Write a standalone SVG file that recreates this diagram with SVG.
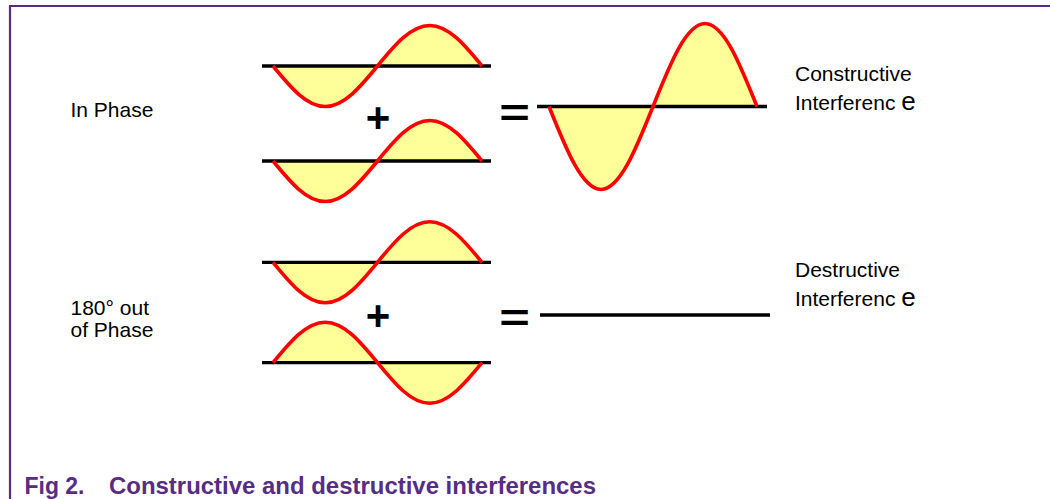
<svg xmlns="http://www.w3.org/2000/svg" xmlns:xlink="http://www.w3.org/1999/xlink" width="1050" height="499" viewBox="0 0 1050 499">
<style>
.lbl{font-family:"Liberation Sans",Arial,sans-serif;font-size:21px;fill:#000}
.op{font-family:"Liberation Sans",Arial,sans-serif;font-size:42px;font-weight:bold;fill:#000;text-anchor:middle}
.cap{font-family:"Liberation Sans",Arial,sans-serif;font-size:23px;font-weight:bold;fill:#582c83}
.axis{stroke:#000;stroke-width:3.3;fill:none}
.fill{fill:#ffff99;stroke:none}
.curve{fill:none;stroke:#ff0000;stroke-width:3.6;stroke-linejoin:round}
</style>
<defs>
<path id="wf" d="M0,0 c17.04,20.75 33.34,40.5 52.25,40.5 c18.91,0 35.21,-19.75 52.25,-40.5 c17.04,-20.75 33.34,-40.5 52.25,-40.5 c18.91,0 35.21,19.75 52.25,40.5 Z"/>
<path id="wc" d="M0,0 c17.04,20.75 33.34,40.5 52.25,40.5 c18.91,0 35.21,-19.75 52.25,-40.5 c17.04,-20.75 33.34,-40.5 52.25,-40.5 c18.91,0 35.21,19.75 52.25,40.5"/>
<path id="bigf" d="M549,106.5 c16.96,42.52 33.18,83 52,83 c18.82,0 35.04,-40.48 52,-83 c16.96,-42.52 33.18,-83 52,-83 c18.82,0 35.04,40.48 52,83 Z"/>
<path id="bigc" d="M549,106.5 c16.96,42.52 33.18,83 52,83 c18.82,0 35.04,-40.48 52,-83 c16.96,-42.52 33.18,-83 52,-83 c18.82,0 35.04,40.48 52,83"/>
</defs>
<rect width="1050" height="499" fill="#fff"/>
<g id="frame" stroke="#582c83" stroke-width="2.2" fill="none">
<line x1="9" y1="6" x2="1050" y2="6"/>
<line x1="10" y1="5" x2="10" y2="499"/>
</g>
<g id="label-in-phase"><text class="lbl" x="70.5" y="117">In Phase</text></g>
<g id="label-out-phase"><text class="lbl" x="70.5" y="315">180° out</text><text class="lbl" x="70.5" y="337">of Phase</text></g>
<g id="wave1" transform="translate(273,66)">
<use xlink:href="#wf" class="fill"/><line class="axis" x1="-11" y1="0" x2="218" y2="0"/><use xlink:href="#wc" class="curve"/>
</g>
<g id="wave2" transform="translate(273,161)">
<use xlink:href="#wf" class="fill"/><line class="axis" x1="-11" y1="0" x2="218" y2="0"/><use xlink:href="#wc" class="curve"/>
</g>
<g id="wave3" transform="translate(273,262.3)">
<use xlink:href="#wf" class="fill"/><line class="axis" x1="-11" y1="0" x2="218" y2="0"/><use xlink:href="#wc" class="curve"/>
</g>
<g id="wave4" transform="translate(273,362.7) scale(1,-1)">
<use xlink:href="#wf" class="fill"/><line class="axis" x1="-11" y1="0" x2="218" y2="0"/><use xlink:href="#wc" class="curve"/>
</g>
<g id="plus1"><text class="op" x="378" y="132">+</text></g>
<g id="plus2"><text class="op" x="378" y="330">+</text></g>
<g id="equals1"><text class="op" transform="translate(514.5,126) scale(1.25,0.92)">=</text></g>
<g id="equals2"><text class="op" transform="translate(514.5,331) scale(1.25,0.92)">=</text></g>
<g id="result-constructive">
<use xlink:href="#bigf" class="fill"/><line class="axis" x1="537" y1="106.5" x2="767" y2="106.5"/><use xlink:href="#bigc" class="curve"/>
</g>
<g id="result-destructive"><line class="axis" x1="540" y1="315" x2="770" y2="315"/></g>
<g id="label-constructive"><text class="lbl" x="795" y="81">Constructive</text><text class="lbl" x="795" y="110">Interferenc <tspan font-size="26">e</tspan></text></g>
<g id="label-destructive"><text class="lbl" x="795" y="277">Destructive</text><text class="lbl" x="795" y="306">Interferenc <tspan font-size="26">e</tspan></text></g>
<g id="caption"><text class="cap" x="24.5" y="494" textLength="60" lengthAdjust="spacingAndGlyphs">Fig 2.</text><text class="cap" x="109" y="494" textLength="487" lengthAdjust="spacingAndGlyphs">Constructive and destructive interferences</text></g>
</svg>
